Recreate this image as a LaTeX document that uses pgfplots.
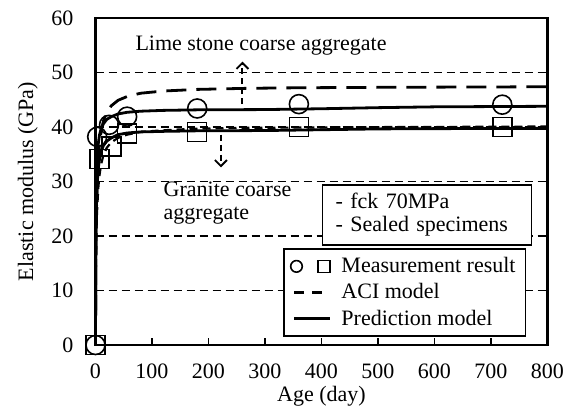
\documentclass[border=0pt]{standalone}
\usepackage{fontspec}
\setmainfont{Liberation Serif}
\usepackage{pgfplots}
\pgfplotsset{compat=1.18}
\usetikzlibrary{arrows.meta}

\pgfplotstableread{
x y
0 0
0.5 14.7
1 19.9
2 25.9
3 29.6
5 34.1
7 36.7
10 39.2
14 41.1
20 42.8
28 43.9
40 44.9
56 45.6
80 46.2
120 46.6
180 46.9
270 47.1
360 47.2
540 47.3
720 47.35
800 47.4
}\aciLime

\pgfplotstableread{
x y
0 0
0.5 12.5
1 16.8
2 21.9
3 25.1
5 28.9
7 31.1
10 33.2
14 34.8
20 36.2
28 37.2
40 38.0
56 38.6
80 39.1
120 39.4
180 39.7
270 39.85
360 39.9
540 40.0
720 40.05
800 40.1
}\aciGran

\pgfplotstableread{
x y
0 0
0.5 18
1 25
2 31
3 34
5 37
7 38.5
10 39.7
14 40.6
20 41.4
28 41.9
40 42.4
56 42.7
80 42.9
120 43.05
180 43.15
300 43.2
400 43.35
500 43.55
600 43.7
800 43.8
}\predLime

\pgfplotstableread{
x y
0 0
0.5 15
1 21
2 26.5
3 29.5
5 32.5
7 34
10 35.5
14 36.6
20 37.4
28 38.0
40 38.6
56 38.9
80 39.1
120 39.2
180 39.3
300 39.35
400 39.5
500 39.65
600 39.7
800 39.75
}\predGran

\pgfplotstableread{
x y
0 0
3 38.2
24 40.4
56 41.9
180 43.4
360 44.2
720 44.1
}\measLime

\pgfplotstableread{
x y
0 0
7 34.1
28 36.4
56 38.8
180 39.1
360 40.0
720 40.0
}\measGran

\begin{document}
\begin{tikzpicture}[font=\fontsize{11}{13}\selectfont]
\useasboundingbox (-47.75pt,-36pt) rectangle (234.75pt,172.5pt);
\begin{axis}[
  scale only axis, width=226pt, height=163.5pt,
  xmin=0, xmax=800, ymin=0, ymax=60,
  xtick={0,100,...,800}, ytick={0,10,...,60},
  tick align=inside, major tick length=3.5pt,
  xtick pos=bottom, ytick pos=both,
  axis line style={line width=1.4pt},
  every tick/.style={black, line width=0.8pt},
  /pgf/number format/assume math mode=true,
  xticklabel style={yshift=-6pt},
  yticklabel style={xshift=-7.5pt},
  xlabel={Age (day)}, ylabel={Elastic modulus (GPa)},
  xlabel style={yshift=3pt},
  ymajorgrids,
  grid style={black, line width=0.8pt, dash pattern=on 4pt off 2.5pt},
  clip=false,
  legend style={at={(axis cs:332,1.5)}, anchor=south west, draw=black,
    line width=0.8pt, fill=white, font=\fontsize{11}{12.5}\selectfont,
    inner xsep=3pt, inner ysep=2pt, row sep=0pt},
  legend cell align=left,
]
\addplot[black, line width=1.4pt, dash pattern=on 10pt off 5pt, forget plot] table {\aciLime};
\addplot[black, line width=1.1pt, dash pattern=on 4pt off 2.5pt, forget plot] table {\aciGran};
\addplot[black, line width=1.4pt, forget plot] table {\predLime};
\addplot[black, line width=1.4pt, forget plot] table {\predGran};
\addplot[only marks, mark=o, mark size=4.75pt, mark options={line width=0.8pt, black}, forget plot] table {\measLime};
\addplot[only marks, mark=square, mark size=4.75pt, mark options={line width=0.8pt, black}, forget plot] table {\measGran};

\addlegendimage{legend image code/.code={
  \draw[black, line width=0.8pt, solid] (3pt,0) circle (2.9pt);
  \draw[black, line width=0.8pt, solid] (13.9pt,-3pt) rectangle (19.9pt,3pt);
  \path[draw=none] (0pt,0) -- (23.5pt,0);}}
\addlegendentry{Measurement result}
\addlegendimage{legend image code/.code={
  \draw[black, line width=1.2pt, dash pattern=on 5pt off 4pt] (2pt,0) -- (16pt,0);
  \path[draw=none] (0pt,0) -- (23.5pt,0);}}
\addlegendentry{ACI model}
\addlegendimage{legend image code/.code={
  \draw[black, line width=1.4pt, solid] (2pt,0) -- (20pt,0);
  \path[draw=none] (0pt,0) -- (23.5pt,0);}}
\addlegendentry{Prediction model}

\draw[black, line width=0.9pt, dash pattern=on 3pt off 2pt, -{Straight Barb[length=3pt, width=6pt]}] (axis cs:260,44.2) -- (axis cs:260,52);
\draw[black, line width=0.9pt, dash pattern=on 3pt off 2pt, -{Straight Barb[length=3pt, width=6pt]}] (axis cs:222,38.6) -- (axis cs:222,32.6);
\node at (axis cs:293,55) {Lime stone coarse aggregate};
\node[anchor=west, align=left, font=\fontsize{11}{11.5}\selectfont, inner sep=0pt] at (axis cs:120,26) {Granite coarse\\aggregate};
\node[draw, line width=0.8pt, fill=white, anchor=north west, align=left,
  text width=91.3pt, inner xsep=6.6pt, minimum height=30pt,
  font=\fontsize{11}{11.5}\selectfont] at (axis cs:400.4,29.5) {- fck 70MPa\\- Sealed specimens};
\end{axis}
\end{tikzpicture}
\end{document}
